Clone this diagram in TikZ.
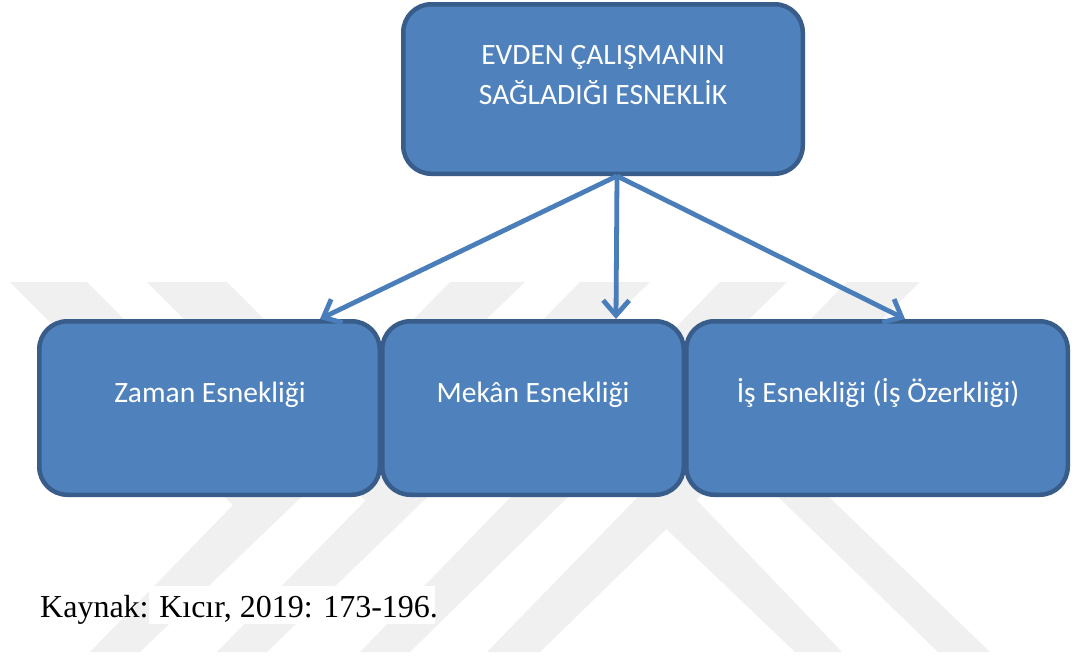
\documentclass[tikz,border=0pt]{standalone}
\usepackage{fontspec}
\setmainfont{Liberation Serif}
\newfontfamily\calibrifont{Carlito}
\usetikzlibrary{arrows.meta,calc}
\definecolor{boxfill}{HTML}{4F81BD}
\definecolor{boxline}{HTML}{385D8A}
\definecolor{arrowc}{HTML}{4A7EBB}
\definecolor{wm}{HTML}{F0F0F0}
\tikzset{
  box/.style={draw=boxline, fill=boxfill, line width=4.5pt, rounded corners=28pt, inner sep=0pt},
  boxlabel/.style={text=white, font=\calibrifont\fontsize{29.5}{35}\selectfont, inner sep=0pt, anchor=base},
  conn/.style={draw=arrowc, line width=4.8pt, -{Straight Barb[length=15pt,width=26pt]}},
  wmark/.style={fill=wm, draw=none}
}
\begin{document}
\begin{tikzpicture}[x=1pt,y=-1pt]
\useasboundingbox (0,0) rectangle (1072,662);
\fill[white] (0,0) rectangle (1072,662);
% watermark
\fill[wmark] (10,282) -- (87,282) -- (299.6,494.6) -- (233,505) -- cycle;
\fill[wmark] (147,282) -- (227,282) -- (434.8,489.8) -- (365.6,500.6) -- cycle;
\fill[wmark] (450,282) -- (525,282) -- (140,652) -- (90,652) -- cycle;
\fill[wmark] (580,282) -- (650,282) -- (267,652) -- (217,652) -- cycle;
\fill[wmark] (720,282) -- (787,282) -- (410,652) -- (360,652) -- cycle;
\fill[wmark] (847,282) -- (920,282) -- (540,652) -- (487,652) -- cycle;
\fill[wmark] (660,523) -- (795,652) -- (842,652) -- (690,493) -- cycle;
\fill[wmark] (938,652) -- (990,652) -- (697,370) -- (665,387) -- cycle;
\fill[white] (149,586) rectangle (435,624);
% boxes
\node[box, minimum width=399.5pt, minimum height=169.5pt] (top) at (603,89) {};
\node[box, minimum width=340.5pt, minimum height=173.5pt] (zaman) at (209.5,408) {};
\node[box, minimum width=301.5pt, minimum height=173.5pt] (mekan) at (533,408) {};
\node[box, minimum width=381.5pt, minimum height=173.5pt] (isbox) at (877,408) {};
% labels
\node[boxlabel] (t1) at (603,64) {EVDEN ÇALIŞMANIN};
\node[boxlabel] (t2) at (603,104) {SAĞLADIĞI ESNEKLİK};
\node[boxlabel] (l1) at (210,402) {Zaman Esnekliği};
\node[boxlabel] (l2) at (533,402) {Mekân Esnekliği};
\node[boxlabel] (l3) at (878,402) {İş Esnekliği (İş Özerkliği)};
% connectors
\coordinate (src) at ($(top.south)+(14,0)$);
\coordinate (e1) at ($(zaman.north)+(110.5,0)$);
\coordinate (e2) at ($(mekan.north)+(83,0)$);
\coordinate (e3) at ($(isbox.north)+(28,0)$);
\draw[conn] (src) -- (e1);
\draw[conn] (src) -- (e2);
\draw[conn] (src) -- (e3);
% source line
\node[anchor=base west, inner sep=0pt, font=\fontsize{32}{38}\selectfont] (kaynak) at (40,617) {Kaynak: Kıcır, 2019: 173-196.};
\end{tikzpicture}
\end{document}
